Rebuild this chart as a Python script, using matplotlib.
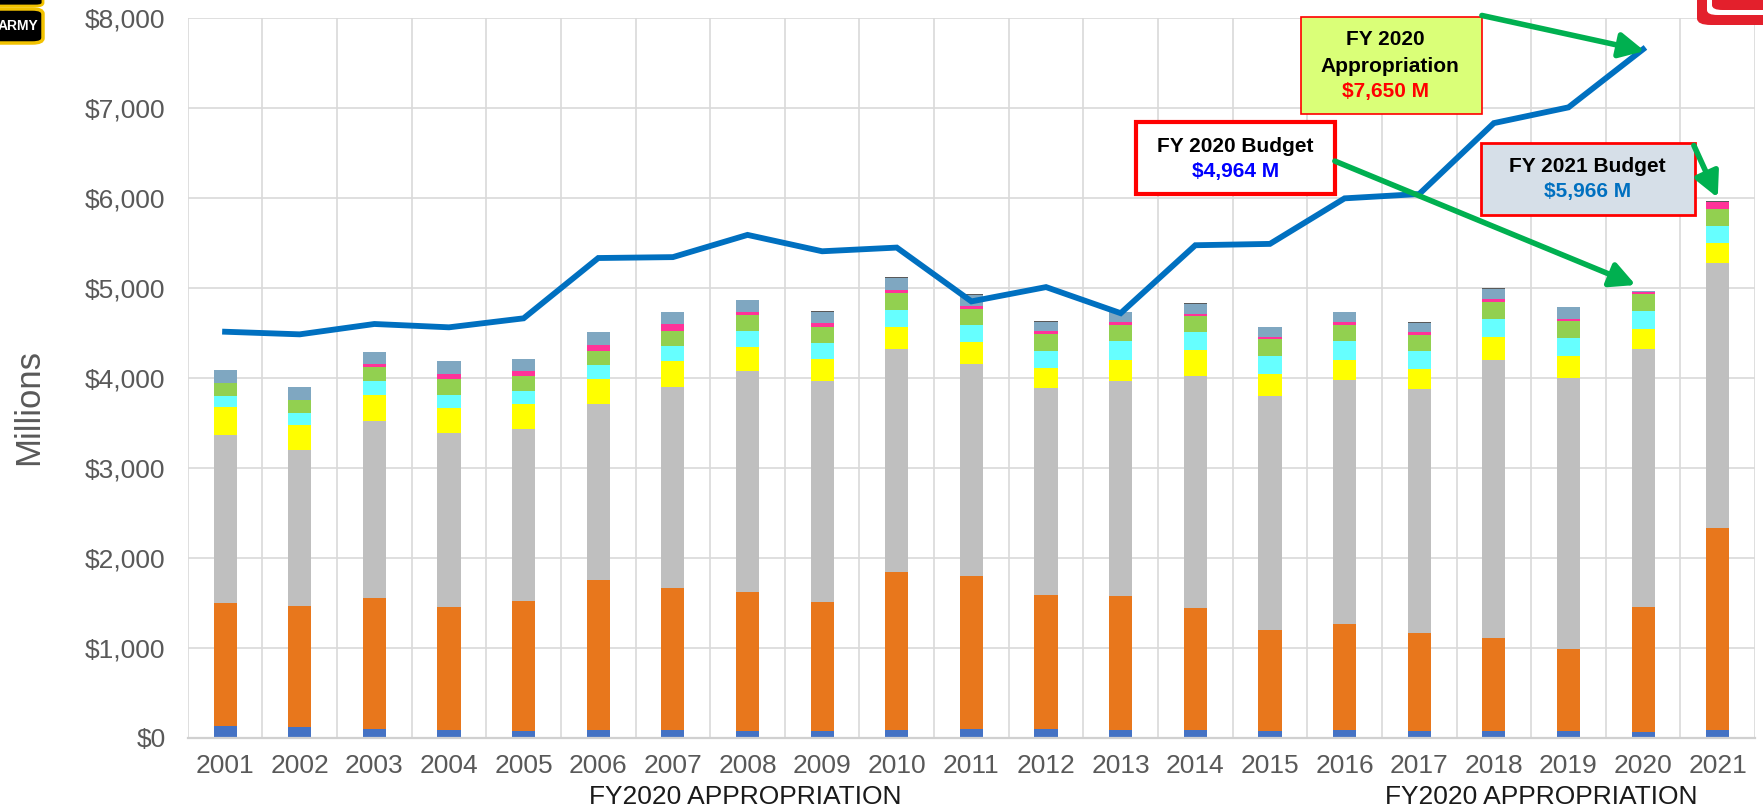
import numpy as np
import matplotlib.pyplot as plt
from matplotlib.patches import Rectangle, FancyArrowPatch, FancyBboxPatch
from matplotlib.transforms import blended_transform_factory

plt.rcParams['font.family'] = ['Liberation Sans', 'DejaVu Sans']

# fiscal years on the x axis
years = [str(y) for y in range(2001, 2022)]

# stacked segments, bottom to top ($ millions)
blue = [128, 121, 98, 91, 75, 83, 83, 79, 79, 91, 97, 97, 90, 82, 75, 86, 78, 78, 78, 63, 90]
orange = [1370, 1343, 1460, 1366, 1446, 1664, 1577, 1544, 1430, 1747, 1703, 1485, 1481,
          1358, 1126, 1175, 1090, 1026, 907, 1388, 2235]
gray = [1861, 1733, 1961, 1929, 1909, 1961, 2240, 2455, 2454, 2477, 2348, 2307, 2396,
        2582, 2599, 2717, 2706, 3096, 3008, 2872, 2949]
yellow = [311, 277, 292, 281, 274, 274, 286, 259, 241, 248, 245, 215, 233, 282, 245,
          222, 223, 252, 252, 218, 219]
cyan = [125, 134, 152, 141, 148, 155, 166, 182, 182, 189, 189, 193, 208, 200, 200,
        208, 200, 200, 196, 200, 196]
green = [151, 148, 159, 174, 170, 160, 167, 178, 174, 189, 185, 188, 177, 178, 181,
         177, 177, 189, 185, 185, 185]
pink = [0, 0, 26, 63, 49, 70, 78, 36, 44, 37, 30, 30, 30, 29, 23, 37, 37, 33, 26, 26, 78]
steel = [141, 141, 138, 144, 140, 141, 129, 130, 126, 133, 123, 104, 115, 104, 111,
         108, 97, 112, 134, 12, 0]
dark = [0, 0, 0, 0, 0, 0, 0, 0, 11, 11, 10, 11, 0, 11, 0, 0, 11, 11, 0, 0, 14]

# appropriation line, 2001-2020
approp = [4511, 4482, 4597, 4560, 4660, 5330, 5340, 5587, 5405, 5446, 4848, 5007,
          4717, 5472, 5487, 5993, 6041, 6829, 7004, 7650]

series = [blue, orange, gray, yellow, cyan, green, pink, steel, dark]
colors = ['#4472C4', '#E8771C', '#BFBFBF', '#FFFF00', '#66FFFF', '#92D050',
          '#FF3399', '#7FA7C1', '#595959']

fig = plt.figure(figsize=(17.63, 8.09), dpi=100)
ax = fig.add_axes([0.1065, 0.0881, 0.889, 0.8900])

x = np.arange(len(years))
bottom = np.zeros(len(years))
for vals, c in zip(series, colors):
    ax.bar(x, vals, 0.31, bottom=bottom, color=c, linewidth=0, zorder=2)
    bottom += np.array(vals)

ax.plot(x[:len(approp)], approp, color='#0070C0', lw=4.2, zorder=3,
        solid_joinstyle='miter')

# axes, grid and ticks
ax.set_xlim(-0.5, 20.5)
ax.set_ylim(0, 8000)
ax.set_yticks(range(0, 8001, 1000))
ax.set_yticklabels(['${:,}'.format(v) for v in range(0, 8001, 1000)])
ax.set_xticks(x)
ax.set_xticklabels(years)
ax.set_xticks(np.arange(-0.5, 21, 1), minor=True)
ax.grid(axis='y', color='#D9D9D9', lw=1.2, zorder=0)
ax.grid(axis='x', which='minor', color='#D9D9D9', lw=1.2, zorder=0)
ax.grid(axis='x', which='major', visible=False)
for s in ['top', 'right', 'left']:
    ax.spines[s].set_visible(False)
ax.spines['bottom'].set_color('#D0D0D0')
ax.spines['bottom'].set_linewidth(1.6)
ax.tick_params(axis='both', which='both', length=0, labelsize=19, colors='#595959')
ax.tick_params(axis='x', pad=12)
ax.tick_params(axis='y', pad=16)
ax.set_ylabel('Millions', fontsize=25, color='#595959')
ax.yaxis.set_label_coords(-0.091, 0.459)

# second-level category labels
tr = blended_transform_factory(ax.transData, ax.transAxes)
for xc in [6.97, 17.64]:
    ax.text(xc, -0.083, 'FY2020 APPROPRIATION', transform=tr, ha='center',
            va='center', fontsize=19, color='#1a1a1a', clip_on=False)

# callout boxes
boxes = [
    (14.41, 6926, 2.43, 1081, '#DAFF78', 1.2),
    (12.20, 6041, 2.67, 800, 'white', 3),
    (16.83, 5811, 2.86, 797, '#D6DFE8', 2),
]
for bx, by, bw, bh, fc, lw in boxes:
    ax.add_patch(Rectangle((bx, by), bw, bh, facecolor=fc, edgecolor='#FF0000',
                           lw=lw, zorder=5, clip_on=False))

ax.text(15.55, 7763, 'FY 2020', ha='center', va='center', fontsize=15,
        fontweight='bold', zorder=6)
ax.text(15.60, 7456, 'Appropriation', ha='center', va='center', fontsize=15,
        fontweight='bold', zorder=6)
ax.text(15.55, 7178, '$7,650 M', ha='center', va='center', fontsize=15,
        fontweight='bold', color='#FF0000', zorder=6)
ax.text(13.54, 6566, 'FY 2020 Budget', ha='center', va='center', fontsize=15,
        fontweight='bold', zorder=6)
ax.text(13.54, 6289, '$4,964 M', ha='center', va='center', fontsize=15,
        fontweight='bold', color='#0000FF', zorder=6)
ax.text(18.25, 6344, 'FY 2021 Budget', ha='center', va='center', fontsize=15,
        fontweight='bold', zorder=6)
ax.text(18.25, 6067, '$5,966 M', ha='center', va='center', fontsize=15,
        fontweight='bold', color='#0070C0', zorder=6)

# green arrows
arrows = [((16.84, 8025), (19.02, 7630)),
          ((14.87, 6407), (18.90, 5030)),
          ((19.68, 6581), (20.00, 6000))]
for start, end in arrows:
    ax.add_patch(FancyArrowPatch(start, end, arrowstyle='-|>,head_length=0.75,head_width=0.38',
                                 mutation_scale=20, color='#00B050', lw=4, zorder=7,
                                 clip_on=False, shrinkA=0, shrinkB=0))

# logos in the corners (figure pixel coords)
W, H = 1763, 809
def px(x0, y0, w, h):
    return (x0 / W, 1 - (y0 + h) / H), w / W, h / H

(lx, ly), lw_, lh = px(-12, 9, 55, 34)
fig.patches.append(FancyBboxPatch((lx, ly), lw_, lh, boxstyle='round,pad=0,rounding_size=0.006',
                                  transform=fig.transFigure, facecolor='black',
                                  edgecolor='#F2C200', lw=2.5))
(lx, ly), lw_, lh = px(-12, -8, 55, 14)
fig.patches.append(FancyBboxPatch((lx, ly), lw_, lh, boxstyle='round,pad=0,rounding_size=0.004',
                                  transform=fig.transFigure, facecolor='black',
                                  edgecolor='#F2C200', lw=2))
fig.text(18 / W, 1 - 26 / H, 'ARMY', ha='center', va='center', color='white',
         fontsize=10, fontweight='bold', fontstretch='condensed')

(rx, ry), rw, rh = px(1697, -20, 90, 45)
fig.patches.append(FancyBboxPatch((rx, ry), rw, rh, boxstyle='round,pad=0,rounding_size=0.008',
                                  transform=fig.transFigure, facecolor='#E3202C', lw=0))
(rx, ry), rw, rh = px(1707, -20, 80, 35)
fig.patches.append(FancyBboxPatch((rx, ry), rw, rh, boxstyle='round,pad=0,rounding_size=0.006',
                                  transform=fig.transFigure, facecolor='white', lw=0))
(rx, ry), rw, rh = px(1712, -20, 75, 30)
fig.patches.append(FancyBboxPatch((rx, ry), rw, rh, boxstyle='round,pad=0,rounding_size=0.006',
                                  transform=fig.transFigure, facecolor='#E3202C', lw=0))

fig.savefig('out.png', dpi=100)
